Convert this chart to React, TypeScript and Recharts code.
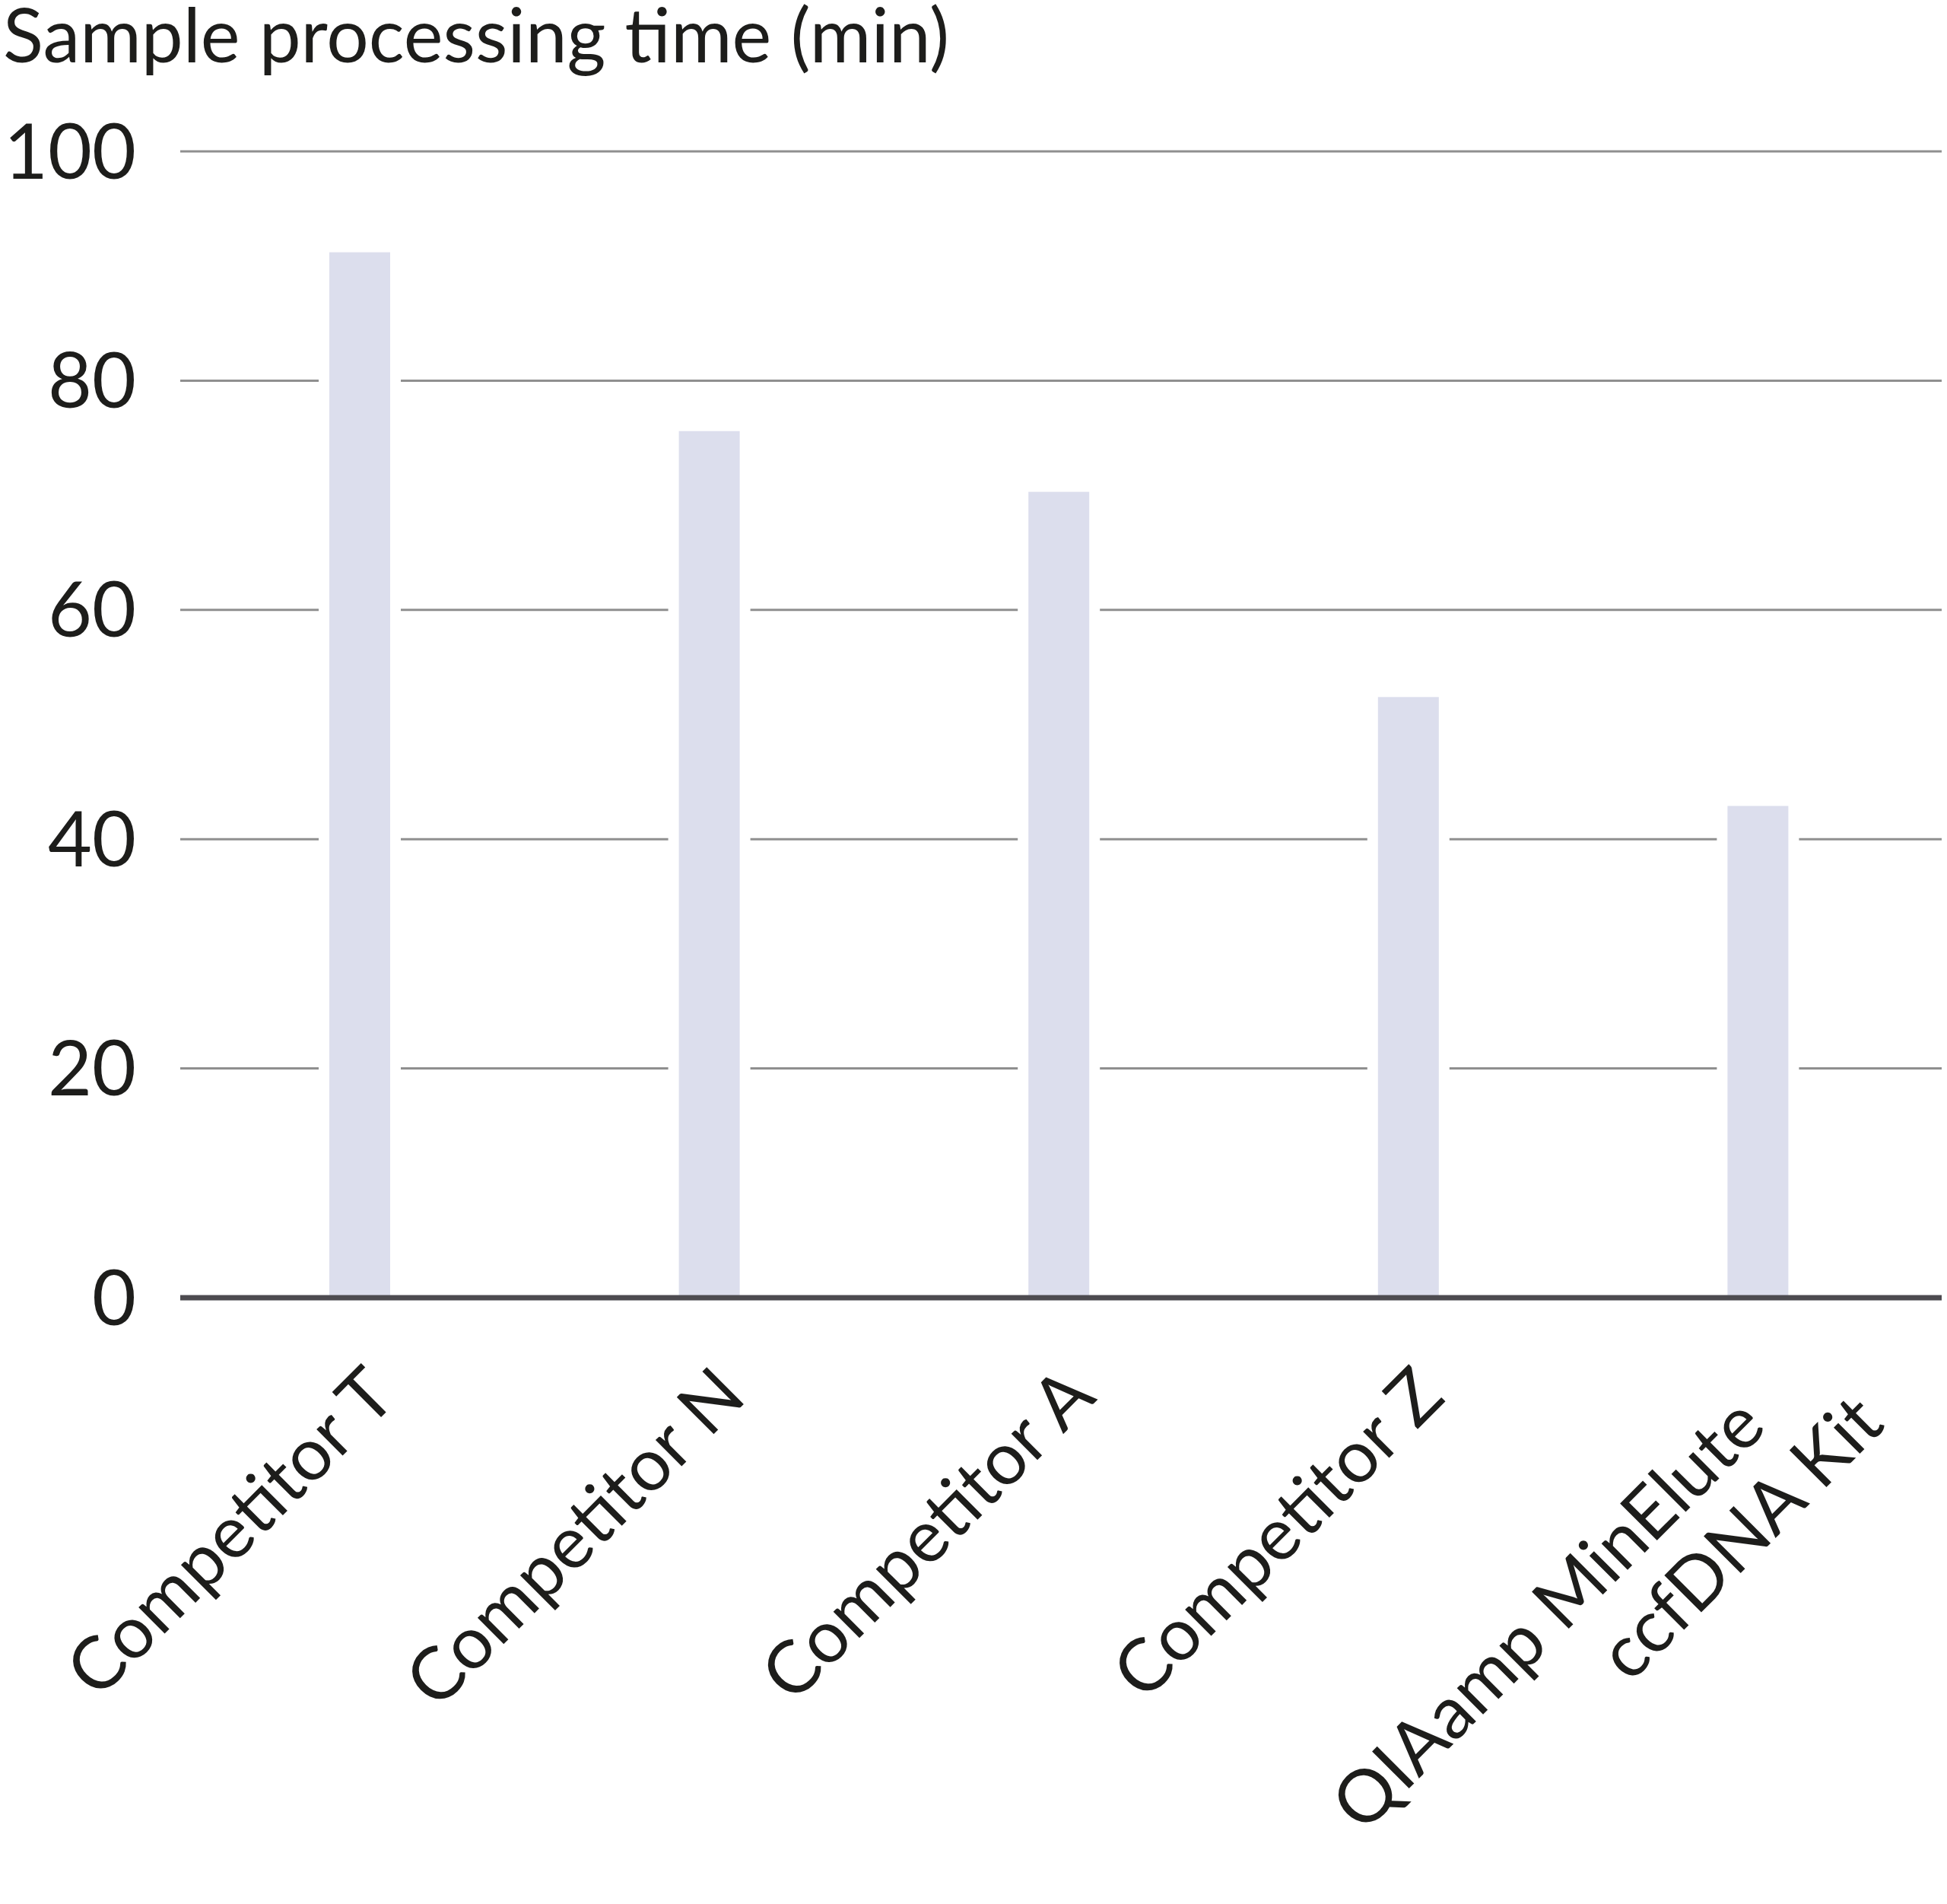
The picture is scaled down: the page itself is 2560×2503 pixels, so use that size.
import { BarChart, Bar, XAxis, YAxis, CartesianGrid } from 'recharts';

const categories = [
  'Competitor T',
  'Competitor N',
  'Competitor A',
  'Competitor Z',
  'QIAamp MinElute\nccfDNA Kit',
];
const processingTime = [91.2, 75.6, 70.3, 52.4, 42.9];
const yTicks = [0, 20, 40, 60, 80, 100];

const data = categories.map((name, i) => ({ name, time: processingTime[i] }));

const FONT = 'Lato, "Noto Sans", sans-serif';
const TEXT = '#1d1d1b';

// bar with a white halo so the gridlines break around it
function GapBar(props: any) {
  const { x, y, width, height, fill } = props;
  if (!height || height <= 0) return null;
  return (
    <g>
      <rect x={x - 14} y={y} width={width + 28} height={height - 4} fill="#ffffff" />
      <rect x={x} y={y} width={width} height={height} fill={fill} />
    </g>
  );
}

// line offsets in the rotated frame (along, perpendicular)
const singleLine = [{ dx: -58, dy: 131 }];
const doubleLine = [
  { dx: -112, dy: 132 },
  { dx: 0, dy: 240 },
];

function AngledTick(props: any) {
  const { x, y, payload } = props;
  const lines = String(payload.value).split('\n');
  const offs = lines.length > 1 ? doubleLine : singleLine;
  return (
    <g transform={`translate(${x},${y}) rotate(-45)`}>
      {lines.map((line, i) => (
        <text
          key={i}
          x={offs[i].dx}
          y={offs[i].dy}
          textAnchor="end"
          fill={TEXT}
          fontSize={96}
          fontFamily={FONT}
        >
          {line}
        </text>
      ))}
    </g>
  );
}

export default function App() {
  return (
    <div style={{ position: 'absolute', left: 0, top: 0, width: 2560, height: 2503, background: '#fff' }}>
      <svg width={2560} height={150} style={{ position: 'absolute', left: 0, top: 0 }}>
        <text x={4} y={82} fill={TEXT} fontSize={98} fontFamily={FONT}>
          Sample processing time (min)
        </text>
      </svg>
      <BarChart
        width={2560}
        height={2503}
        data={data}
        margin={{ top: 199, right: 7, bottom: 97, left: 0 }}
        barSize={80}
      >
        <CartesianGrid vertical={false} stroke="#8f8f8f" strokeWidth={3} />
        <YAxis
          type="number"
          domain={[0, 100]}
          ticks={yTicks}
          width={237}
          axisLine={false}
          tickLine={false}
          tickSize={0}
          tickMargin={58}
          tick={{ fill: TEXT, fontSize: 100, fontFamily: FONT }}
        />
        <Bar dataKey="time" fill="#dcdeed" shape={<GapBar />} isAnimationActive={false} />
        <XAxis
          dataKey="name"
          interval={0}
          height={700}
          padding={{ left: 6, right: 12 }}
          axisLine={{ stroke: '#4d4b50', strokeWidth: 7 }}
          tickLine={false}
          tickSize={0}
          tickMargin={0}
          tick={<AngledTick />}
        />
      </BarChart>
    </div>
  );
}
